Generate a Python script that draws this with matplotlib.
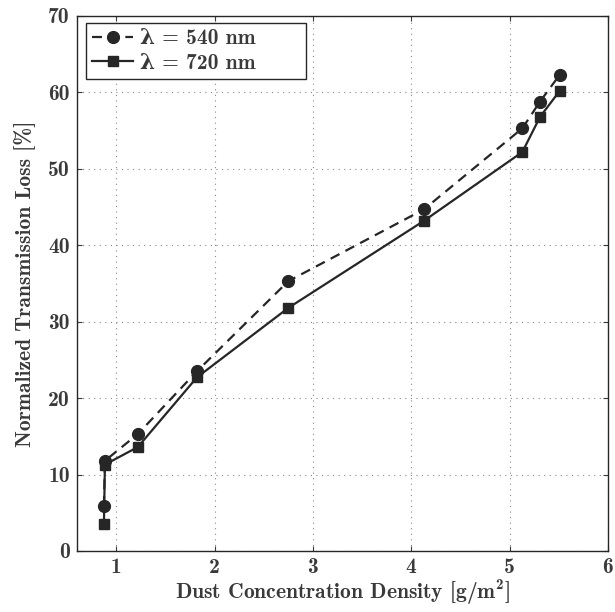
import matplotlib
matplotlib.use("Agg")
import matplotlib.pyplot as plt

x540 = [0.875, 0.885, 1.22, 1.82, 2.75, 4.13, 5.13, 5.31, 5.51]
y540 = [5.9, 11.8, 15.3, 23.5, 35.3, 44.7, 55.3, 58.8, 62.3]
x720 = [0.875, 0.885, 1.22, 1.82, 2.75, 4.13, 5.13, 5.31, 5.51]
y720 = [3.5, 11.3, 13.6, 22.7, 31.8, 43.2, 52.2, 56.8, 60.2]

xticks = [1, 2, 3, 4, 5, 6]
yticks = [0, 10, 20, 30, 40, 50, 60, 70]

plt.rcParams['font.family'] = ['cmb10', 'DejaVu Serif']
plt.rcParams['font.weight'] = 'bold'
plt.rcParams['mathtext.fontset'] = 'custom'
plt.rcParams['mathtext.rm'] = 'cmb10'
plt.rcParams['mathtext.bf'] = 'cmb10'
plt.rcParams['mathtext.it'] = 'cmb10'
plt.rcParams['axes.unicode_minus'] = False

fs = 15.5
fig = plt.figure(figsize=(6.15, 6.12), dpi=100)
ax = fig.add_axes([0.125, 0.0997, 0.8635, 0.8743])

col = '#262626'
tcol = '#3a3a3a'
ax.plot(x540, y540, '--', color=col, lw=1.6, marker='o', ms=8.5, dashes=(4.5, 3),
        label='λ = 540 nm')
ax.plot(x720, y720, '-', color=col, lw=1.6, marker='s', ms=7,
        label='λ = 720 nm')

ax.set_xlim(0.6, 6)
ax.set_ylim(0, 70)
ax.set_xticks(xticks)
ax.set_yticks(yticks)
ax.grid(True, linestyle=(0, (1, 4)), color='#888888', lw=0.8)
ax.tick_params(direction='in', top=True, right=True, length=3.5, labelsize=fs,
               colors=tcol, pad=5)
for s in ax.spines.values():
    s.set_color(col)
    s.set_linewidth(1.0)

ax.set_xlabel(r'Dust Concentration Density [g/m$^{\mathbf{2}}$]', fontsize=fs, color=tcol, labelpad=1.5)
ax.set_ylabel('Normalized Transmission Loss [%]', fontsize=fs, color=tcol, labelpad=9)

leg = ax.legend(loc='upper left', bbox_to_anchor=(0.017, 0.865, 0.414, 0.122), mode='expand',
                fontsize=fs, frameon=True, fancybox=False,
                edgecolor=col, framealpha=1, handlelength=1.9, handletextpad=0.3,
                borderaxespad=0.0, borderpad=0.3, labelspacing=0.25)
leg.get_frame().set_linewidth(1.0)
for t in leg.get_texts():
    t.set_color(tcol)

fig.savefig('out.png', dpi=100)
